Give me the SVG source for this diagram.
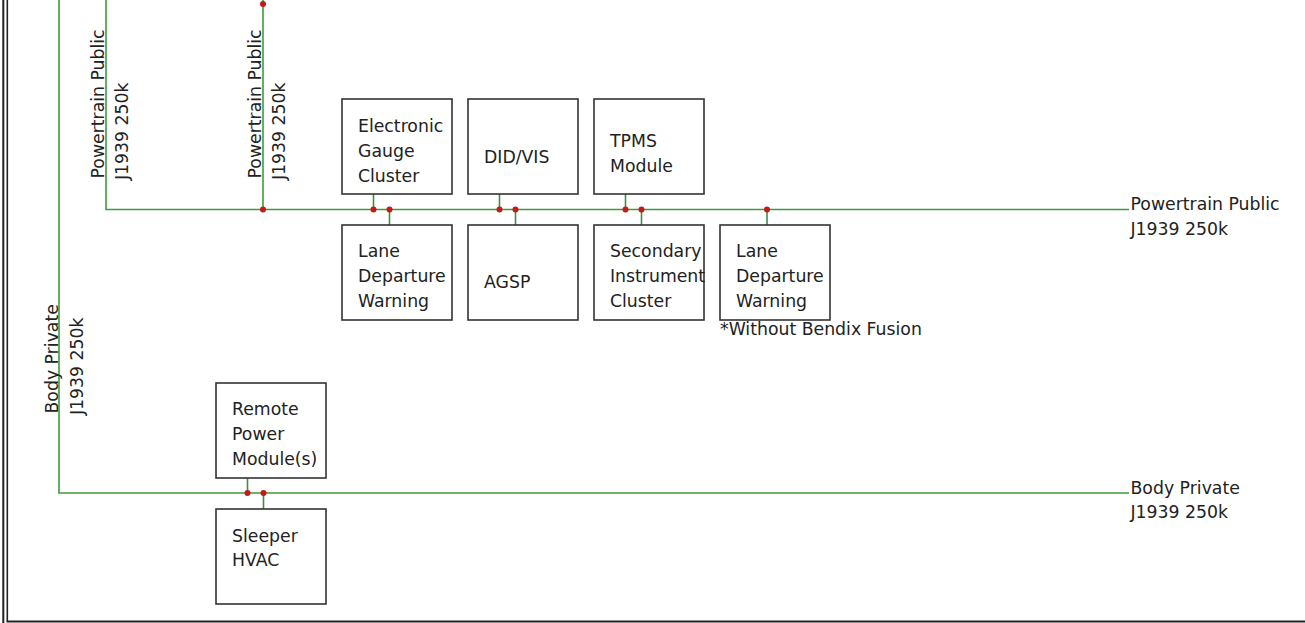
<svg xmlns="http://www.w3.org/2000/svg" width="1305" height="623" viewBox="0 0 1305 623">
<style>
.bus{stroke:#3c9c3c;stroke-width:1.6;fill:none}
.stub{stroke:#3c8c4c;stroke-width:1.6;fill:none}
.box{fill:#fff;stroke:#333;stroke-width:1.6}
.dot{fill:#c41a1a}
text{font-family:"DejaVu Sans",sans-serif;font-size:17.3px;fill:#222}
.frame{stroke:#222;fill:none}
</style>
<rect width="1305" height="623" fill="#fff"/>
<g id="frame">
<line class="frame" x1="3.3" y1="0" x2="3.3" y2="623" stroke-width="2"/>
<line class="frame" x1="7.3" y1="0" x2="7.3" y2="621.5" stroke-width="1.6"/>
<line class="frame" x1="6.5" y1="621.5" x2="1305" y2="621.5" stroke-width="2"/>
</g>
<g id="connectors">
<polyline class="bus" points="59,0 59,493 1129,493"/>
<polyline class="bus" points="106,0 106,209.5 1129,209.5"/>
<line class="bus" x1="263" y1="0" x2="263" y2="209.5"/>
<line class="stub" x1="373.5" y1="194" x2="373.5" y2="209.5"/>
<line class="stub" x1="389.5" y1="209.5" x2="389.5" y2="225"/>
<line class="stub" x1="499.5" y1="194" x2="499.5" y2="209.5"/>
<line class="stub" x1="515.5" y1="209.5" x2="515.5" y2="225"/>
<line class="stub" x1="625.5" y1="194" x2="625.5" y2="209.5"/>
<line class="stub" x1="641.5" y1="209.5" x2="641.5" y2="225"/>
<line class="stub" x1="767" y1="209.5" x2="767" y2="225"/>
<line class="stub" x1="247.5" y1="478" x2="247.5" y2="493"/>
<line class="stub" x1="263.5" y1="493" x2="263.5" y2="509"/>
<circle class="dot" cx="263" cy="4" r="3"/>
<circle class="dot" cx="263" cy="209.5" r="3"/>
<circle class="dot" cx="373.5" cy="209.5" r="3"/>
<circle class="dot" cx="389.5" cy="209.5" r="3"/>
<circle class="dot" cx="499.5" cy="209.5" r="3"/>
<circle class="dot" cx="515.5" cy="209.5" r="3"/>
<circle class="dot" cx="625.5" cy="209.5" r="3"/>
<circle class="dot" cx="641.5" cy="209.5" r="3"/>
<circle class="dot" cx="767" cy="209.5" r="3"/>
<circle class="dot" cx="247.5" cy="493" r="3"/>
<circle class="dot" cx="263.5" cy="493" r="3"/>
</g>
<g id="bus-labels">
<text transform="translate(104,178.5) rotate(-90)">Powertrain Public</text>
<text transform="translate(127.5,180) rotate(-90)">J1939 250k</text>
<text transform="translate(261,178.5) rotate(-90)">Powertrain Public</text>
<text transform="translate(285,180) rotate(-90)">J1939 250k</text>
<text transform="translate(57.5,413.5) rotate(-90)">Body Private</text>
<text transform="translate(82.5,415) rotate(-90)">J1939 250k</text>
<text x="1130.5" y="210">Powertrain Public</text>
<text x="1130.5" y="234.5">J1939 250k</text>
<text x="1130.5" y="493.5">Body Private</text>
<text x="1130.5" y="518">J1939 250k</text>
</g>
<g id="egc">
<rect class="box" x="342" y="99" width="110" height="95"/>
<text x="358" y="132">Electronic</text>
<text x="358" y="157">Gauge</text>
<text x="358" y="182">Cluster</text>
</g>
<g id="didvis">
<rect class="box" x="468" y="99" width="110" height="95"/>
<text x="484" y="163">DID/VIS</text>
</g>
<g id="tpms">
<rect class="box" x="594" y="99" width="110" height="95"/>
<text x="610" y="147">TPMS</text>
<text x="610" y="172">Module</text>
</g>
<g id="ldw1">
<rect class="box" x="342" y="225" width="110" height="95"/>
<text x="358" y="257">Lane</text>
<text x="358" y="282">Departure</text>
<text x="358" y="307">Warning</text>
</g>
<g id="agsp">
<rect class="box" x="468" y="225" width="110" height="95"/>
<text x="484" y="288">AGSP</text>
</g>
<g id="sic">
<rect class="box" x="594" y="225" width="110" height="95"/>
<text x="610" y="257">Secondary</text>
<text x="610" y="282">Instrument</text>
<text x="610" y="307">Cluster</text>
</g>
<g id="ldw2">
<rect class="box" x="720" y="225" width="110" height="95"/>
<text x="736" y="257">Lane</text>
<text x="736" y="282">Departure</text>
<text x="736" y="307">Warning</text>
<text x="720" y="335">*Without Bendix Fusion</text>
</g>
<g id="rpm">
<rect class="box" x="216" y="383" width="110" height="95"/>
<text x="232" y="415">Remote</text>
<text x="232" y="440">Power</text>
<text x="232" y="465">Module(s)</text>
</g>
<g id="hvac">
<rect class="box" x="216" y="509" width="110" height="95"/>
<text x="232" y="542">Sleeper</text>
<text x="232" y="566">HVAC</text>
</g>
</svg>
